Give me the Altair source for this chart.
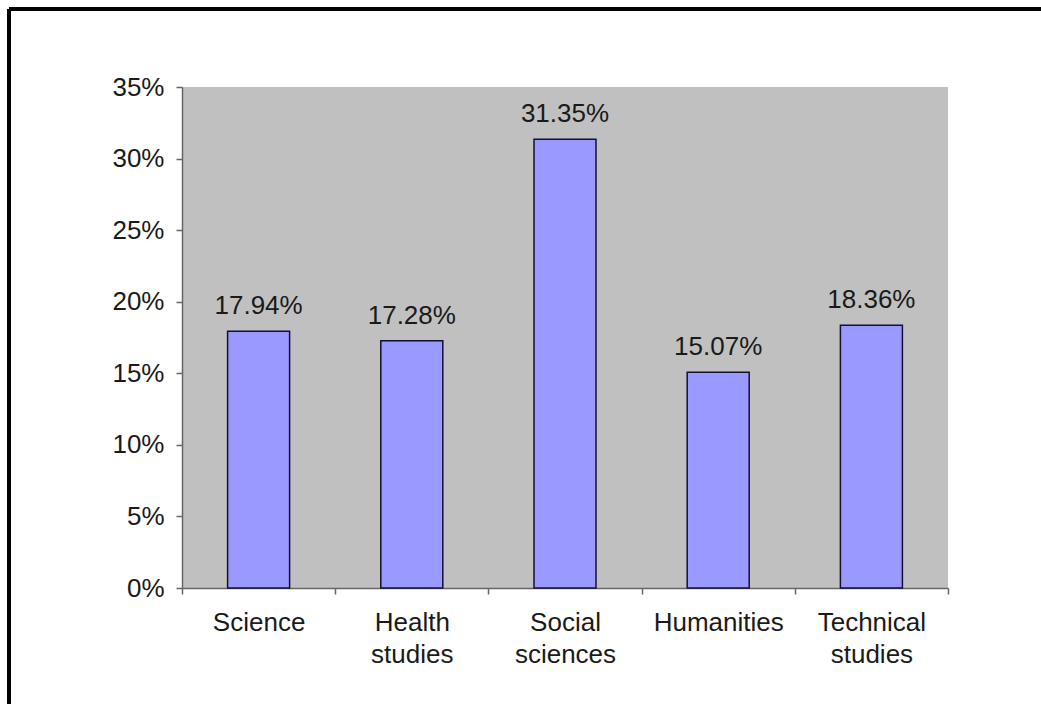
import altair as alt
import pandas as pd

categories = ["Science", "Health studies", "Social sciences", "Humanities", "Technical studies"]
shares = [0.1794, 0.1728, 0.3135, 0.1507, 0.1836]
y_ticks = [0, 0.05, 0.10, 0.15, 0.20, 0.25, 0.30, 0.35]

df = pd.DataFrame({"category": categories, "share": shares})

FONT = "Liberation Sans"
W, H = 766, 501
PAD_L, PAD_T = 182, 87

x_enc = alt.X(
    "category:N",
    sort=categories,
    scale=alt.Scale(paddingInner=0, paddingOuter=0),
    axis=alt.Axis(
        title=None,
        labelAngle=0,
        labelExpr="split(datum.label, ' ')",
        labelLineHeight=32,
        labelFontSize=26,
        labelFont=FONT,
        labelColor="#1a1a1a",
        labelPadding=15,
        tickBand="extent",
        tickSize=6,
        tickColor="#666666",
        domainColor="#666666",
        domainWidth=1.5,
        tickWidth=1.5,
    ),
)
y_enc = alt.Y(
    "share:Q",
    scale=alt.Scale(domain=[0, 0.35], nice=False),
    axis=alt.Axis(
        title=None,
        values=y_ticks,
        format=".0%",
        grid=False,
        labelFontSize=26,
        labelFont=FONT,
        labelColor="#1a1a1a",
        labelPadding=12,
        tickSize=6,
        tickColor="#666666",
        domainColor="#666666",
        domainWidth=1.5,
        tickWidth=1.5,
    ),
)

bars = alt.Chart(df).mark_bar(
    size=62, color="#9999FF", stroke="#111133", strokeWidth=1.5
).encode(x=x_enc, y=y_enc)

labels = alt.Chart(df).mark_text(
    font=FONT, fontSize=26, color="#1a1a1a", baseline="alphabetic", dy=-17
).encode(
    x=alt.X("category:N", sort=categories),
    y="share:Q",
    text=alt.Text("share:Q", format=".2%"),
)

frame_left = alt.Chart(df).mark_rule(color="black", strokeWidth=3.5).encode(
    x=alt.value(9 - PAD_L), y=alt.value(9 - PAD_T), y2=alt.value(800)
)
frame_top = alt.Chart(df).mark_rule(color="black", strokeWidth=3.5).encode(
    y=alt.value(9 - PAD_T), x=alt.value(9 - PAD_L), x2=alt.value(1100)
)

chart = alt.layer(bars, labels, frame_left, frame_top).properties(
    width=W,
    height=H,
    autosize=alt.AutoSizeParams(type="none"),
    padding={"left": PAD_L, "top": PAD_T, "right": 1041 - PAD_L - W, "bottom": 704 - PAD_T - H},
    background="white",
).configure_view(fill="#C0C0C0", stroke=None)

chart.save("out.html", embed_options={"renderer": "svg", "actions": False})
